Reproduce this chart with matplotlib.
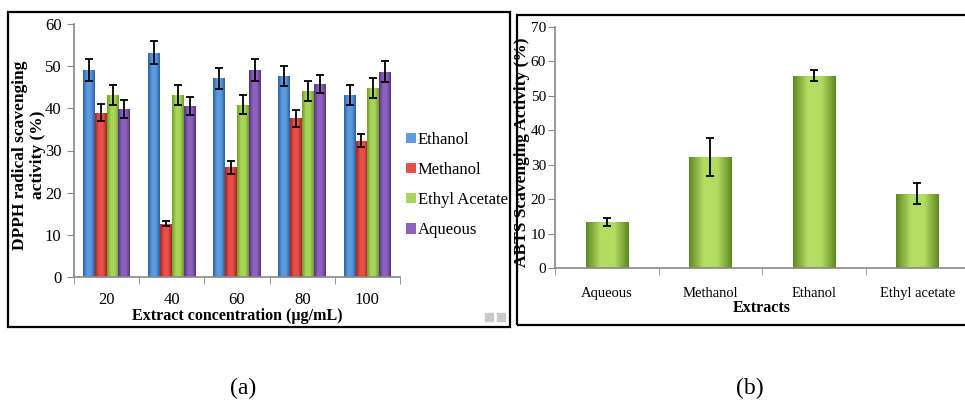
import numpy as np
import matplotlib
matplotlib.use("Agg")
import matplotlib.pyplot as plt
from matplotlib.patches import Rectangle
from matplotlib.colors import LinearSegmentedColormap

plt.rcParams['font.family'] = ['Liberation Serif', 'DejaVu Serif']

# Panel (a): DPPH radical scavenging
concentrations = ['20', '40', '60', '80', '100']
ethanol = [49.1, 53.2, 47.1, 47.7, 43.2]
ethanol_err = [2.6, 2.7, 2.4, 2.4, 2.3]
methanol = [39.0, 12.6, 26.0, 37.6, 32.3]
methanol_err = [2.0, 0.6, 1.5, 2.0, 1.5]
ethyl_acetate = [43.2, 43.2, 40.9, 44.1, 44.9]
ethyl_acetate_err = [2.3, 2.3, 2.2, 2.3, 2.4]
aqueous = [39.8, 40.6, 49.1, 45.8, 48.7]
aqueous_err = [2.1, 2.2, 2.5, 2.2, 2.5]

# Panel (b): ABTS scavenging
extracts = ['Aqueous', 'Methanol', 'Ethanol', 'Ethyl acetate']
abts = [13.3, 32.2, 55.9, 21.6]
abts_err = [1.2, 5.5, 1.6, 2.95]

series = [
    ('Ethanol', ethanol, ethanol_err, ('#2a5f9e', '#5b9be0')),
    ('Methanol', methanol, methanol_err, ('#a8231f', '#e8504a')),
    ('Ethyl Acetate', ethyl_acetate, ethyl_acetate_err, ('#6e9a25', '#a9d65a')),
    ('Aqueous', aqueous, aqueous_err, ('#56327f', '#8d62bf')),
]


def shade(ax, bars, dark, light):
    # horizontal gradient inside each bar
    cmap = LinearSegmentedColormap.from_list('g', [dark, light, light, dark])
    grad = np.linspace(0, 1, 64).reshape(1, -1)
    for r in bars:
        x0, y0 = r.get_xy()
        im = ax.imshow(grad, extent=[x0, x0 + r.get_width(), y0, y0 + r.get_height()],
                       cmap=cmap, aspect='auto', zorder=2, interpolation='bicubic')
        im.set_clip_path(r)


W, H = 965, 403
fig = plt.figure(figsize=(W / 100, H / 100), dpi=100)

# frames around the two panels
fig.patches.append(Rectangle((8 / W, 1 - 327 / H), 502 / W, 315 / H, transform=fig.transFigure,
                             fill=False, lw=1.6, ec='black'))
fig.patches.append(Rectangle((517 / W, 1 - 325 / H), 460 / W, 310 / H, transform=fig.transFigure,
                             fill=False, lw=1.6, ec='black'))
for px in (485, 497):
    fig.patches.append(Rectangle((px / W, 1 - 321 / H), 8 / W, 8 / H, transform=fig.transFigure,
                                 color='#c9c9c9'))

# ---- panel (a)
ax1 = fig.add_axes([74 / W, 1 - 277 / H, 326 / W, 253 / H])
x = np.arange(len(concentrations))
bw = 0.182
for i, (name, vals, errs, (dark, light)) in enumerate(series):
    pos = x + (i - 1.5) * bw
    bars = ax1.bar(pos, vals, bw, color=light, label=name, zorder=1, linewidth=0)
    shade(ax1, bars, dark, light)
    ax1.errorbar(pos, vals, yerr=errs, fmt='none', ecolor='black', elinewidth=1.3,
                 capsize=3, capthick=1.3, zorder=3)

ax1.set_xlim(-0.5, len(concentrations) - 0.5)
ax1.set_ylim(0, 60)
ax1.set_yticks(range(0, 61, 10))
ax1.set_xticks(x)
ax1.set_xticklabels(concentrations)
ax1.set_xticks(np.arange(-0.5, len(concentrations)), minor=True)
ax1.tick_params(axis='x', which='major', length=0, pad=11, labelsize=12)
ax1.tick_params(axis='x', which='minor', length=5, color='#888888', direction='out')
ax1.tick_params(axis='y', length=5, color='#888888', labelsize=12, pad=4)
for s in ('top', 'right'):
    ax1.spines[s].set_visible(False)
for s in ('left', 'bottom'):
    ax1.spines[s].set_color('#888888')
    ax1.spines[s].set_linewidth(1.2)
ax1.set_xlabel('Extract concentration (µg/mL)', fontsize=11.5, fontweight='bold', labelpad=0)
fig.text(29 / W, 1 - 155 / H, 'DPPH radical scavenging\nactivity (%)', rotation=90,
         ha='center', va='center', fontsize=12.5, fontweight='bold', linespacing=1.1)

leg = ax1.legend(loc='center left', bbox_to_anchor=(391 / W, 1 - 185 / H),
                 bbox_transform=fig.transFigure, frameon=False, fontsize=12,
                 handlelength=0.6, handleheight=0.6, handletextpad=0.1, labelspacing=0.85)

# ---- panel (b)
ax2 = fig.add_axes([555 / W, 1 - 268 / H, 414 / W, 241 / H])
xb = np.arange(len(extracts))
bars = ax2.bar(xb, abts, 0.41, color='#9cc845', zorder=1, linewidth=0)
shade(ax2, bars, '#5f8a22', '#b3dc62')
ax2.errorbar(xb, abts, yerr=abts_err, fmt='none', ecolor='black', elinewidth=1.3,
             capsize=3, capthick=1.3, zorder=3)
ax2.set_xlim(-0.5, len(extracts) - 0.5)
ax2.set_ylim(0, 70)
ax2.set_yticks(range(0, 71, 10))
ax2.set_xticks(xb)
ax2.set_xticklabels(extracts)
ax2.set_xticks(np.arange(-0.5, len(extracts)), minor=True)
ax2.tick_params(axis='x', which='major', length=0, pad=14, labelsize=10.5)
ax2.tick_params(axis='x', which='minor', length=5, color='#888888', direction='out')
ax2.tick_params(axis='y', length=5, color='#888888', labelsize=11, pad=1.5)
for s in ('top', 'right'):
    ax2.spines[s].set_visible(False)
for s in ('left', 'bottom'):
    ax2.spines[s].set_color('#888888')
    ax2.spines[s].set_linewidth(1.2)
ax2.set_xlabel('Extracts', fontsize=11.5, fontweight='bold', labelpad=0)
fig.text(522 / W, 1 - 152 / H, 'ABTS Scavenging Activity (%)', rotation=90,
         ha='center', va='center', fontsize=12.5, fontweight='bold')

# sub-figure labels
fig.text(243 / W, 1 - 388 / H, '(a)', ha='center', va='center', fontsize=17)
fig.text(750 / W, 1 - 388 / H, '(b)', ha='center', va='center', fontsize=17)

fig.savefig('out.png', dpi=100)
